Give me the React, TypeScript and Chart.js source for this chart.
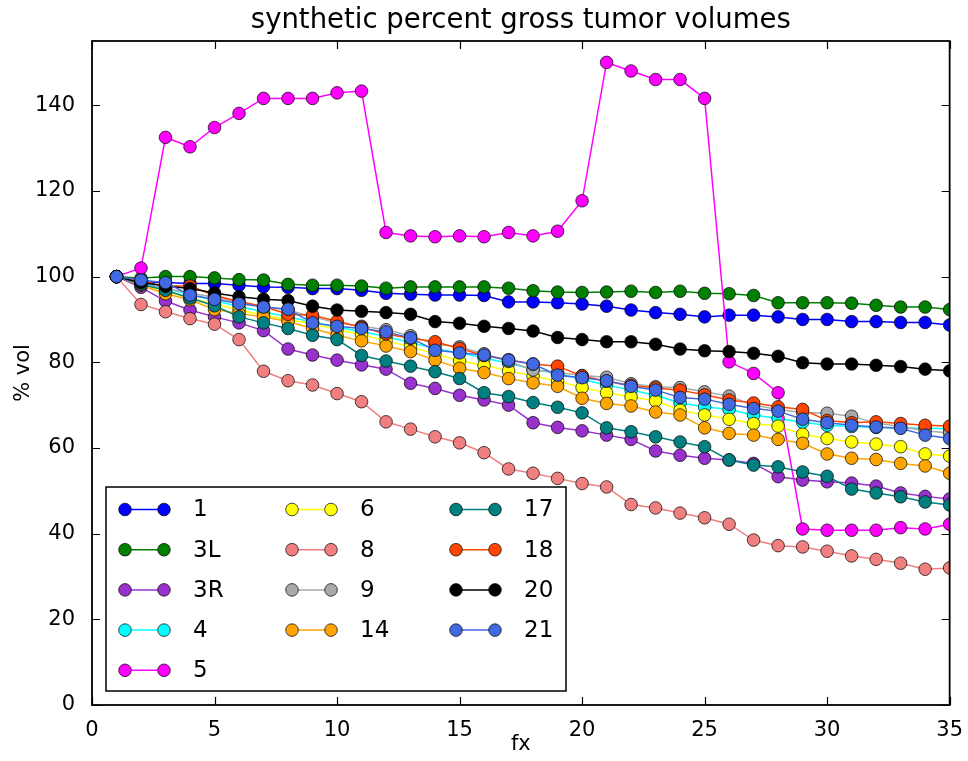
import { useEffect, useRef } from "react";
import { Chart, registerables } from "chart.js";

Chart.register(...registerables);

// Fraction number (x) for every series
const fx = [
  1, 2, 3, 4, 5, 6, 7, 8, 9, 10, 11, 12, 13, 14, 15, 16, 17, 18, 19, 20,
  21, 22, 23, 24, 25, 26, 27, 28, 29, 30, 31, 32, 33, 34, 35,
];

// Percent gross tumor volume per structure
const vol1 = [100, 98.8, 98.6, 98.4, 98.4, 98.0, 97.6, 97.5, 97.2, 97.2, 96.8, 96.1, 95.9, 95.7, 95.7, 95.6, 94.1, 94.1, 93.9, 93.6, 93.1, 92.2, 91.6, 91.2, 90.6, 91.0, 91.0, 90.6, 90.0, 90.0, 89.5, 89.5, 89.3, 89.3, 88.7];
const vol3L = [100, 99.6, 100.0, 100.0, 99.7, 99.3, 99.2, 98.2, 98.0, 98.0, 97.8, 97.3, 97.6, 97.6, 97.6, 97.6, 97.3, 96.7, 96.4, 96.3, 96.4, 96.6, 96.3, 96.6, 96.1, 96.0, 95.6, 93.9, 93.9, 93.9, 93.8, 93.3, 92.9, 92.9, 92.3];
const vol3R = [100, 97.5, 94.3, 92.2, 90.6, 89.2, 87.4, 83.1, 81.7, 80.5, 79.4, 78.4, 75.1, 73.9, 72.3, 71.2, 70.0, 65.9, 64.8, 64.0, 63.0, 62.0, 59.3, 58.3, 57.6, 57.2, 56.4, 53.3, 52.5, 52.1, 51.8, 51.1, 49.5, 48.7, 48.1];
const vol4 = [100, 98.6, 97.2, 95.8, 94.4, 93.0, 91.8, 90.6, 89.4, 88.2, 87.2, 86.0, 84.6, 83.2, 82.2, 81.0, 79.8, 78.4, 77.4, 76.0, 74.7, 73.5, 72.3, 70.5, 69.6, 69.0, 67.7, 66.9, 66.0, 65.3, 65.0, 64.8, 64.7, 64.6, 64.5];
const vol5 = [100, 102.0, 132.5, 130.3, 134.8, 138.1, 141.6, 141.6, 141.6, 142.9, 143.3, 110.3, 109.5, 109.3, 109.5, 109.3, 110.3, 109.5, 110.6, 117.7, 150.0, 148.0, 146.0, 146.0, 141.6, 80.1, 77.4, 72.9, 41.1, 40.8, 40.8, 40.8, 41.4, 41.1, 42.2];
const vol6 = [100, 98.3, 96.6, 95.0, 93.6, 92.2, 91.0, 90.0, 89.0, 87.6, 86.5, 85.0, 83.6, 82.0, 80.3, 79.3, 78.0, 76.8, 75.6, 74.1, 72.9, 71.9, 71.0, 68.8, 67.7, 66.7, 65.7, 65.1, 63.2, 62.2, 61.4, 60.9, 60.3, 58.6, 58.1];
const vol8 = [100, 93.5, 91.8, 90.2, 88.9, 85.3, 77.9, 75.7, 74.7, 72.7, 70.8, 66.1, 64.4, 62.6, 61.2, 58.9, 55.1, 54.1, 52.9, 51.7, 50.9, 46.8, 46.0, 44.8, 43.7, 42.2, 38.5, 37.2, 36.9, 35.9, 34.8, 34.0, 33.1, 31.7, 32.0];
const vol9 = [100, 98.2, 97.2, 96.2, 95.2, 94.0, 93.0, 92.2, 90.6, 89.2, 88.4, 87.6, 86.2, 84.2, 83.6, 82.0, 80.2, 78.2, 77.6, 76.9, 76.5, 75.0, 74.3, 74.1, 73.1, 72.1, 70.0, 69.0, 68.3, 68.1, 67.4, 65.8, 65.0, 64.0, 63.5];
const vol14 = [100, 98.0, 96.0, 94.6, 92.3, 91.4, 90.6, 89.5, 87.9, 86.3, 85.0, 83.8, 82.5, 80.5, 78.6, 77.6, 76.2, 75.2, 74.4, 71.6, 70.4, 69.8, 68.4, 67.7, 64.7, 63.4, 63.0, 62.0, 61.1, 58.6, 57.6, 57.3, 56.4, 55.8, 54.1];
const vol17 = [100, 98.2, 96.8, 95.0, 93.2, 90.6, 89.2, 87.9, 86.3, 85.3, 81.6, 80.3, 79.1, 77.8, 76.2, 72.9, 72.0, 70.6, 69.5, 68.2, 64.7, 63.8, 62.6, 61.4, 60.3, 57.2, 56.0, 55.6, 54.4, 53.4, 50.4, 49.5, 48.6, 47.4, 46.7];
const vol18 = [100, 98.9, 97.8, 97.8, 95.6, 94.2, 93.0, 91.2, 91.0, 89.6, 88.2, 86.6, 85.6, 84.8, 83.2, 81.6, 80.6, 79.6, 79.1, 76.8, 75.6, 74.6, 74.0, 73.5, 72.4, 71.2, 70.5, 69.6, 69.0, 66.4, 65.9, 66.1, 65.7, 65.3, 65.1];
const vol20 = [100, 98.6, 97.8, 97.2, 96.2, 95.3, 94.7, 94.4, 93.1, 92.2, 91.9, 91.6, 91.2, 89.5, 89.1, 88.4, 87.9, 87.3, 85.8, 85.3, 84.8, 84.8, 84.2, 83.1, 82.7, 82.5, 82.1, 81.4, 79.9, 79.6, 79.6, 79.3, 79.0, 78.4, 78.0];
const vol21 = [100, 99.2, 98.6, 95.7, 94.7, 93.7, 92.9, 92.4, 89.2, 88.4, 87.9, 87.1, 85.7, 82.8, 82.2, 81.7, 80.5, 79.6, 77.0, 76.4, 75.7, 74.4, 73.5, 71.8, 71.4, 70.2, 69.2, 68.6, 66.7, 65.9, 65.3, 64.9, 64.6, 63.0, 62.2];

const seriesNames = ["1", "3L", "3R", "4", "5", "6", "8", "9", "14", "17", "18", "20", "21"];
const seriesValues = [vol1, vol3L, vol3R, vol4, vol5, vol6, vol8, vol9, vol14, vol17, vol18, vol20, vol21];
const seriesColors = [
  "#0000ff", "#008000", "#9932cc", "#00ffff", "#ff00ff", "#ffff00", "#f08080",
  "#a9a9a9", "#ffa500", "#008080", "#ff4500", "#000000", "#4169e1",
];

// Legend entries per column (5 / 4 / 4)
const legendColumnSizes = [5, 4, 4];

const xTicks = [0, 5, 10, 15, 20, 25, 30, 35];
const yTicks = [0, 20, 40, 60, 80, 100, 120, 140];

const titleText = "synthetic percent gross tumor volumes";
const xTitle = "fx";
const yTitle = "% vol";

const FONT = "'DejaVu Sans', 'Liberation Sans', sans-serif";

const decorPlugin = {
  id: "decor",
  afterDatasetsDraw(chart: any) {
    const { ctx, chartArea: a, scales } = chart;
    const xs = scales.x;
    const ys = scales.y;
    ctx.save();

    // inward ticks on all four sides
    ctx.strokeStyle = "#000";
    ctx.lineWidth = 1.2;
    const tl = 8;
    ctx.beginPath();
    for (const v of xTicks) {
      const px = Math.round(xs.getPixelForValue(v)) + 0.5;
      ctx.moveTo(px, a.bottom);
      ctx.lineTo(px, a.bottom - tl);
      ctx.moveTo(px, a.top);
      ctx.lineTo(px, a.top + tl);
    }
    for (const v of yTicks) {
      const py = Math.round(ys.getPixelForValue(v)) + 0.5;
      ctx.moveTo(a.left, py);
      ctx.lineTo(a.left + tl, py);
      ctx.moveTo(a.right, py);
      ctx.lineTo(a.right - tl, py);
    }
    ctx.stroke();

    // legend box
    const lx = a.left + 14;
    const ly = a.bottom - 218;
    const lw = 460;
    const lh = 204;
    ctx.fillStyle = "#fff";
    ctx.fillRect(lx, ly, lw, lh);
    ctx.strokeStyle = "#000";
    ctx.lineWidth = 1.5;
    ctx.strokeRect(lx, ly, lw, lh);

    const colX = [lx + 19, lx + 186, lx + 350];
    const lineLen = 39;
    const textOff = 68;
    ctx.font = `23px ${FONT}`;
    ctx.textBaseline = "middle";
    ctx.textAlign = "left";
    let idx = 0;
    legendColumnSizes.forEach((size, col) => {
      for (let row = 0; row < size; row++, idx++) {
        const i = idx;
        const x0 = colX[col];
        const yy = ly + 22.5 + row * 40.2;
        ctx.strokeStyle = seriesColors[i];
        ctx.lineWidth = 1.5;
        ctx.beginPath();
        ctx.moveTo(x0, yy);
        ctx.lineTo(x0 + lineLen, yy);
        ctx.stroke();
        for (const mx of [x0, x0 + lineLen]) {
          ctx.beginPath();
          ctx.arc(mx, yy, 6.3, 0, Math.PI * 2);
          ctx.fillStyle = seriesColors[i];
          ctx.fill();
          ctx.strokeStyle = "rgba(0,0,0,0.7)";
          ctx.lineWidth = 1;
          ctx.stroke();
        }
        ctx.fillStyle = "#000";
        ctx.fillText(seriesNames[i], x0 + textOff, yy + 1);
      }
    });

    // axes frame
    ctx.strokeStyle = "#000";
    ctx.lineWidth = 1.8;
    ctx.strokeRect(a.left, a.top, a.right - a.left, a.bottom - a.top);

    // title and axis titles
    ctx.fillStyle = "#000";
    ctx.textAlign = "center";
    ctx.textBaseline = "alphabetic";
    ctx.font = `27.5px ${FONT}`;
    ctx.fillText(titleText, (a.left + a.right) / 2, 28);
    ctx.font = `21px ${FONT}`;
    ctx.textBaseline = "middle";
    ctx.fillText(xTitle, (a.left + a.right) / 2, 745);
    ctx.translate(24, (a.top + a.bottom) / 2);
    ctx.rotate(-Math.PI / 2);
    ctx.fillText(yTitle, 0, 0);
    ctx.restore();
  },
};

export default function App() {
  const canvasRef = useRef<HTMLCanvasElement | null>(null);

  useEffect(() => {
    document.body.style.margin = "0";
    const canvas = canvasRef.current;
    if (!canvas) return;
    const datasets = seriesNames.map((name, i) => ({
      label: name,
      data: fx.map((x, k) => ({ x, y: seriesValues[i][k] })),
      borderColor: seriesColors[i],
      backgroundColor: seriesColors[i],
      borderWidth: 1.5,
      pointRadius: 6.3,
      pointHoverRadius: 6.3,
      pointBackgroundColor: seriesColors[i],
      pointBorderColor: "rgba(0,0,0,0.7)",
      pointBorderWidth: 1,
      tension: 0,
      fill: false,
      clip: 0,
      order: seriesNames.length - i,
    }));

    const chart = new Chart(canvas, {
      type: "line",
      data: { datasets },
      options: {
        responsive: false,
        animation: false,
        events: [],
        layout: { padding: { left: 0, right: 18, top: 41, bottom: 0 } },
        plugins: {
          legend: { display: false },
          title: { display: false },
          tooltip: { enabled: false },
        },
        scales: {
          x: {
            type: "linear",
            min: 0,
            max: 35,
            grid: { display: false },
            border: { display: false },
            afterBuildTicks: (s: any) => {
              s.ticks = xTicks.map((v) => ({ value: v }));
            },
            afterFit: (s: any) => {
              s.height = 56;
            },
            ticks: {
              padding: 5,
              color: "#000",
              font: { family: FONT, size: 21 },
              maxRotation: 0,
              autoSkip: false,
            },
          },
          y: {
            type: "linear",
            min: 0,
            max: 155,
            grid: { display: false },
            border: { display: false },
            afterBuildTicks: (s: any) => {
              s.ticks = yTicks.map((v) => ({ value: v }));
            },
            afterFit: (s: any) => {
              s.width = 92;
            },
            ticks: {
              padding: 9,
              color: "#000",
              font: { family: FONT, size: 21 },
              autoSkip: false,
            },
          },
        },
      },
      plugins: [decorPlugin],
    });

    return () => chart.destroy();
  }, []);

  return (
    <div style={{ width: 968, height: 761 }}>
      <canvas ref={canvasRef} width={968} height={761} />
    </div>
  );
}
